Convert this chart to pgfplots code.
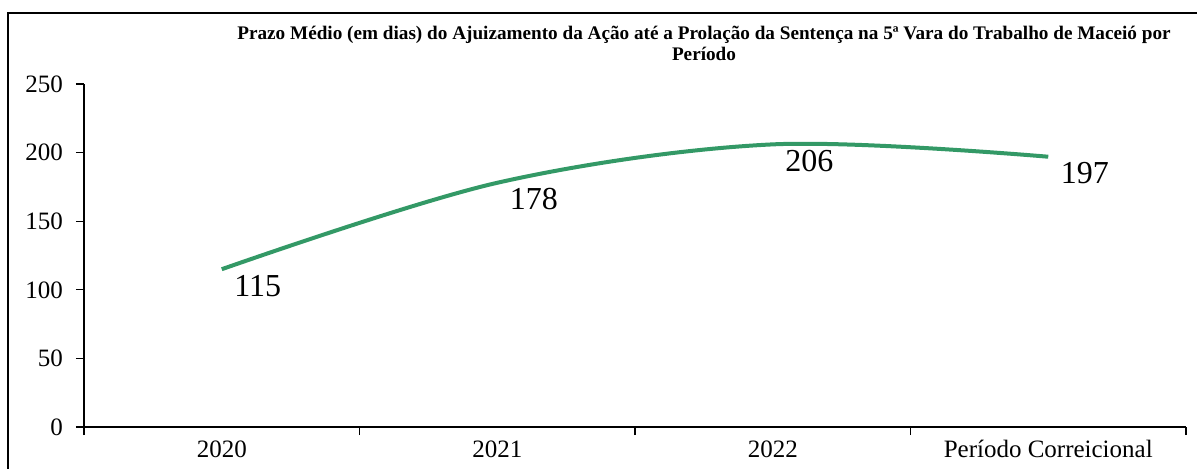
\documentclass[border=0pt]{standalone}
\usepackage{pgfplots}
\pgfplotsset{compat=1.18}
\usepackage{fontspec}
\setmainfont{Liberation Serif}
\definecolor{linegreen}{RGB}{51,153,102}
\begin{document}
\begin{tikzpicture}
% picture area in px*0.5pt: 1197x468 -> 598.5pt x 234pt
\useasboundingbox (0,0) rectangle (598.5pt,234pt);
\draw[line width=1pt] (4pt,-20pt) -- (4pt,227.5pt) -- (620pt,227.5pt);
\node[font=\fontsize{9.6}{10.5}\selectfont\bfseries, align=center] at (352pt,212.5pt)
  {Prazo Médio (em dias) do Ajuizamento da Ação até a Prolação da Sentença na 5ª Vara do Trabalho de Maceió por\\Período};
\begin{axis}[
  at={(42pt,20.5pt)}, anchor=south west,
  scale only axis, width=551pt, height=171.5pt,
  xmin=-0.5, xmax=3.5, ymin=0, ymax=250,
  axis lines=left, axis line style={-, line width=0.6pt},
  ytick={0,50,100,150,200,250},
  xtick={-0.5,0.5,1.5,2.5,3.5}, xticklabels={},
  extra x ticks={0,1,2,3},
  extra x tick labels={2020,2021,2022,Período Correicional},
  extra x tick style={major tick length=0pt},
  tick align=outside, major tick length=4pt,
  tick style={black, line width=0.6pt},
  ticklabel style={font=\fontsize{12.5}{14}\selectfont},
  xticklabel style={yshift=-5.5pt, inner sep=1pt},
  yticklabel style={xshift=-3pt},
  /pgf/number format/assume math mode=true,
  clip=false,
]
\addplot[linegreen, line width=2pt, smooth, tension=0.55,
  nodes near coords,
  every node near coord/.append style={black, anchor=north west,
    font=\fontsize{16}{18}\selectfont, xshift=2pt, yshift=1.5pt}]
  coordinates {(0,115) (1,178) (2,206) (3,197)};
\end{axis}
\end{tikzpicture}
\end{document}
